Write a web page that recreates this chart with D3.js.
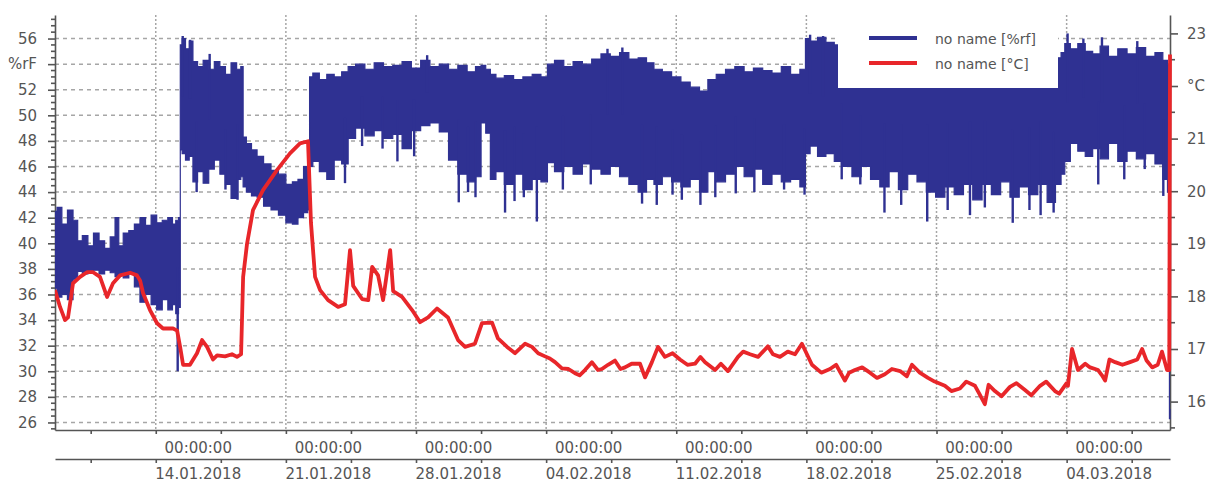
<!DOCTYPE html>
<html>
<head>
<meta charset="utf-8">
<script src="https://cdn.jsdelivr.net/npm/d3@7"></script>
<style>
  body { margin: 0; background: #fff; }
  svg { display: block; font-family: 'DejaVu Sans', sans-serif; }
  .axis path, .axis line { stroke: #555; stroke-width: 1.6; }
  .axis text { fill: #555; font-size: 15px; font-family: 'DejaVu Sans', sans-serif; }
  .legend text { fill: #555; font-size: 14px; }
</style>
</head>
<body>
<div id="chart"></div>
<script>

/*
--- DATA (days counted from 01.01.2018 00:00)
*/

// relative humidity [%rf], upper and lower edge of the band
var humDays = [
  7.58, 7.80, 8.10, 8.40, 8.70, 8.90, 9.20, 9.50, 9.80, 10.10,
  10.40, 10.70, 10.92, 11.10, 11.40, 11.70, 12.00, 12.30, 12.60, 12.90,
  13.20, 13.50, 13.80, 14.00, 14.15, 14.30, 14.34, 14.50, 14.70, 14.90,
  15.10, 15.40, 15.70, 16.00, 16.30, 16.60, 16.90, 17.20, 17.50, 17.65,
  17.75, 18.00, 18.30, 18.60, 19.00, 19.40, 19.80, 20.20, 20.50, 20.80,
  21.10, 21.25, 21.30, 21.60, 22.00, 22.40, 22.80, 23.20, 23.50, 24.00,
  24.50, 25.00, 25.50, 26.00, 26.50, 27.00, 27.50, 28.00, 28.50, 29.00,
  29.50, 30.00, 30.40, 30.60, 30.90, 31.10, 31.50, 32.00, 32.50, 33.00,
  33.50, 33.94, 34.20, 34.70, 35.20, 35.70, 36.20, 36.70, 37.20, 37.70,
  38.20, 38.70, 39.20, 39.60, 40.00, 40.50, 41.00, 41.50, 42.00, 42.50,
  42.90, 43.40, 43.90, 44.40, 44.90, 45.40, 45.90, 46.40, 46.90, 47.40,
  47.90, 48.00, 48.40, 48.80, 49.30, 49.70, 50.20, 50.70, 51.20, 51.70,
  52.20, 52.70, 53.20, 53.70, 54.20, 54.70, 55.20, 55.70, 56.20, 56.70,
  57.20, 57.70, 58.20, 58.70, 59.20, 59.70, 60.20, 60.70, 61.20, 61.60,
  61.80, 62.00, 62.40, 62.80, 63.20, 63.60, 64.00, 64.50, 65.00, 65.50,
  66.00, 66.50, 67.00, 67.35, 67.50, 67.56
];
var humHigh = [
  42.5, 42.8, 41.5, 42.6, 41.8, 40.2, 40.6, 39.8, 40.8, 40.2,
  39.6, 40.5, 42.0, 39.8, 40.8, 41.0, 41.5, 42.0, 41.4, 42.2,
  41.6, 41.8, 42.0, 41.5, 41.8, 42.0, 55.5, 56.0, 55.2, 55.8,
  54.2, 53.8, 54.3, 53.6, 54.2, 53.8, 53.2, 54.1, 53.6, 53.8,
  48.3, 47.8, 47.3, 46.8, 46.2, 45.7, 45.4, 44.6, 44.8, 45.0,
  46.0, 46.6, 53.0, 53.3, 52.8, 53.2, 53.0, 53.4, 53.8, 54.0,
  53.6, 54.1, 53.8, 53.9, 54.2, 53.7, 54.3, 53.8, 54.0, 53.6,
  53.9, 53.4, 53.8, 53.9, 53.6, 53.2, 52.9, 53.1, 52.8, 53.0,
  53.2, 53.0, 54.0, 54.3, 53.8, 54.2, 54.0, 54.4, 54.8, 54.6,
  54.9, 54.4, 54.5, 54.1, 53.6, 53.4, 53.0, 52.6, 52.2, 51.9,
  52.8, 53.2, 53.6, 53.8, 53.4, 53.7, 53.5, 53.3, 53.8, 53.2,
  53.6, 56.0, 55.8, 56.1, 55.7, 55.5, 54.5, 54.8, 54.5, 54.6,
  54.3, 54.6, 54.4, 54.5, 54.3, 54.5, 54.2, 54.4, 54.3, 54.5,
  54.2, 54.6, 54.3, 54.5, 54.2, 54.6, 54.3, 54.4, 54.2, 54.5,
  54.9, 55.6, 55.2, 55.6, 55.0, 54.8, 55.4, 54.6, 55.2, 54.8,
  55.3, 54.6, 54.9, 54.3, 54.0, 27.0
];
var humLow = [
  36.5, 35.8, 36.0, 35.6, 37.2, 37.8, 37.6, 37.8, 37.9, 37.6,
  37.9, 37.7, 37.4, 37.5, 37.3, 37.6, 36.6, 35.4, 36.0, 35.2,
  34.8, 35.6, 34.8, 35.2, 34.5, 35.0, 47.3, 47.0, 46.5, 46.8,
  44.8, 45.6, 44.7, 45.8, 46.5, 45.4, 44.6, 43.5, 45.0, 45.2,
  44.4, 44.0, 43.7, 43.6, 42.9, 42.6, 42.2, 41.6, 41.5, 42.0,
  42.4, 42.6, 46.0, 46.4, 45.6, 45.0, 46.5, 46.2, 48.2, 49.0,
  48.4, 48.8, 48.2, 48.5, 47.4, 48.8, 49.2, 49.4, 48.7, 46.5,
  45.4, 44.8, 45.2, 49.4, 48.6, 45.0, 45.6, 44.6, 45.4, 44.2,
  45.0, 44.8, 46.3, 45.6, 46.0, 45.4, 46.2, 45.8, 45.4, 46.0,
  45.2, 44.6, 44.0, 45.0, 44.6, 45.2, 44.8, 44.4, 45.0, 44.0,
  45.6, 44.8, 45.4, 46.0, 45.2, 45.8, 44.6, 45.4, 44.8, 45.0,
  44.4, 47.0, 47.6, 46.8, 47.0, 46.4, 46.0, 45.2, 46.0, 45.0,
  44.4, 45.6, 44.2, 45.4, 44.8, 44.0, 43.6, 44.4, 43.8, 44.6,
  43.4, 44.6, 43.8, 44.8, 43.6, 44.4, 43.8, 44.6, 43.2, 44.6,
  45.4, 46.4, 47.8, 47.2, 46.8, 47.4, 46.6, 47.8, 46.4, 47.2,
  46.6, 47.0, 46.2, 45.0, 44.0, 26.3
];

// single readings sticking out of the humidity band
var humSpikeDays = [
  14.18, 15.20, 16.75, 17.40, 23.18, 24.10, 25.20, 26.00, 26.90, 29.30,
  29.80, 30.20, 31.79, 32.30, 32.80, 33.50, 34.90, 36.40, 39.16, 39.95,
  40.80, 41.30, 42.30, 43.10, 44.20, 45.20, 46.80, 47.90, 49.90, 50.90,
  52.20, 53.10, 54.50, 55.60, 56.80, 57.60, 59.10, 60.00, 60.60, 61.30,
  63.70, 65.10, 66.20, 67.20,
  14.45, 14.85, 15.90, 27.60, 37.30, 38.10, 48.20, 48.90, 62.05, 62.90,
  63.90, 65.80
];
var humSpikeValues = [
  30.0, 44.0, 44.2, 43.4, 44.7, 47.6, 47.4, 46.4, 46.8, 43.2,
  44.0, 43.6, 42.4, 43.3, 43.6, 41.7, 44.2, 44.6, 43.1, 43.0,
  43.8, 43.4, 43.0, 43.6, 43.9, 44.0, 44.2, 43.8, 45.0, 44.6,
  42.4, 43.0, 41.7, 42.6, 42.2, 42.8, 41.6, 42.6, 42.2, 42.4,
  44.6, 45.0, 45.8, 43.7,
  56.2, 55.9, 54.8, 54.7, 55.2, 55.3, 56.3, 56.2, 56.4, 56.0,
  56.1, 55.8
];

// temperature [°C]
var tempDays = [
  7.58, 7.85, 8.12, 8.28, 8.55, 8.93, 9.30, 9.63, 10.00, 10.38,
  10.70, 11.08, 11.62, 11.99, 12.16, 12.32, 12.69, 13.07, 13.39, 13.93,
  14.15, 14.31, 14.47, 14.84, 15.22, 15.49, 15.76, 16.08, 16.30, 16.73,
  17.10, 17.37, 17.59, 17.70, 17.91, 18.23, 18.77, 19.52, 20.22, 20.76,
  21.19, 21.35, 21.57, 21.84, 22.27, 22.81, 23.18, 23.45, 23.62, 24.10,
  24.43, 24.64, 24.96, 25.23, 25.61, 25.77, 26.25, 26.79, 27.22, 27.65,
  28.13, 28.72, 29.26, 29.64, 30.17, 30.55, 31.09, 31.41, 31.90, 32.33,
  32.87, 33.24, 33.57, 33.94, 34.20, 34.48, 34.85, 35.20, 35.55, 35.80,
  36.09, 36.46, 36.79, 37.00, 37.33, 37.70, 38.00, 38.24, 38.60, 39.05,
  39.32, 39.69, 40.02, 40.39, 40.80, 41.20, 41.60, 42.01, 42.30, 42.55,
  43.09, 43.40, 43.78, 44.32, 44.60, 44.97, 45.40, 45.93, 46.20, 46.58,
  47.00, 47.39, 47.76, 48.30, 48.80, 49.27, 49.60, 50.07, 50.30, 50.61,
  51.00, 51.42, 51.80, 52.22, 52.60, 53.04, 53.40, 53.68, 54.10, 54.54,
  54.90, 55.45, 55.80, 56.26, 56.60, 57.07, 57.30, 57.60, 57.80, 58.14,
  58.50, 58.95, 59.30, 59.76, 60.10, 60.57, 60.90, 61.37, 61.60, 62.00,
  62.07, 62.29, 62.61, 63.00, 63.26, 63.69, 63.90, 64.07, 64.30, 64.61,
  65.00, 65.41, 65.80, 66.06, 66.30, 66.60, 66.90, 67.13, 67.40, 67.52,
  67.56
];
var tempValues = [
  18.12, 17.80, 17.55, 17.60, 18.25, 18.37, 18.46, 18.46, 18.37, 17.99,
  18.25, 18.40, 18.45, 18.40, 18.30, 18.06, 17.74, 17.49, 17.39, 17.39,
  17.35, 17.04, 16.70, 16.70, 16.92, 17.17, 17.04, 16.80, 16.88, 16.86,
  16.90, 16.85, 16.90, 18.37, 19.00, 19.64, 20.02, 20.40, 20.72, 20.91,
  20.95, 19.40, 18.37, 18.12, 17.93, 17.80, 17.85, 18.88, 18.20, 17.95,
  17.93, 18.56, 18.40, 17.93, 18.88, 18.10, 17.99, 17.74, 17.51, 17.60,
  17.77, 17.60, 17.17, 17.04, 17.10, 17.49, 17.50, 17.20, 17.04, 16.92,
  17.10, 17.04, 16.92, 16.86, 16.82, 16.75, 16.63, 16.62, 16.54, 16.50,
  16.60, 16.75, 16.60, 16.62, 16.70, 16.78, 16.62, 16.65, 16.72, 16.72,
  16.46, 16.75, 17.04, 16.85, 16.92, 16.80, 16.70, 16.72, 16.85, 16.75,
  16.60, 16.72, 16.58, 16.85, 16.95, 16.90, 16.85, 17.05, 16.90, 16.85,
  16.95, 16.90, 17.10, 16.70, 16.55, 16.62, 16.70, 16.40, 16.55, 16.60,
  16.65, 16.55, 16.45, 16.52, 16.62, 16.58, 16.48, 16.70, 16.55, 16.45,
  16.38, 16.30, 16.20, 16.25, 16.38, 16.30, 16.15, 15.95, 16.32, 16.20,
  16.10, 16.28, 16.35, 16.22, 16.12, 16.30, 16.38, 16.20, 16.15, 16.35,
  16.30, 17.00, 16.60, 16.72, 16.65, 16.60, 16.50, 16.40, 16.80, 16.75,
  16.70, 16.75, 16.80, 17.00, 16.78, 16.65, 16.70, 16.95, 16.60, 16.60,
  22.60
];

// axis ticks
var humTicks = [26, 28, 30, 32, 34, 36, 38, 40, 42, 44, 46, 48, 50, 52, 54, 56];
var tempTicks = [16, 17, 18, 19, 20, 21, 22, 23];
var weekLabels = ['14.01.2018', '21.01.2018', '28.01.2018', '04.02.2018',
                  '11.02.2018', '18.02.2018', '25.02.2018', '04.03.2018'];
var seriesNames = ['no name [%rf]', 'no name [°C]'];

/*
--- PROPERTIES
*/

var width = 1212, height = 482;
var plot = {left: 55, right: 1170, top: 15, bottom: 430};
var blue = '#2f3192', red = '#e8262a', gridColor = '#a6a6a6';
var t0 = Date.UTC(2018, 0, 1);
var toDate = function(d) { return new Date(t0 + d * 864e5); };
var parseDay = d3.utcParse('%d.%m.%Y');

var majorDates = weekLabels.map(parseDay);
var minorDates = majorDates.map(function(d) { return d3.utcHour.offset(d, -84); });
minorDates.push(d3.utcHour.offset(majorDates[majorDates.length - 1], 84));
var allTicks = majorDates.concat(minorDates).sort(d3.ascending);
var isMajor = function(d) { return d.getUTCHours() === 0; };

var x = d3.scaleUtc()
  .domain([toDate(7.58), toDate(67.56)])
  .range([plot.left, plot.right]);
var yHum = d3.scaleLinear().domain([25.41, 57.84]).range([plot.bottom, plot.top]);
var yTemp = d3.scaleLinear().domain([15.46, 23.35]).range([plot.bottom, plot.top]);

var svg = d3.select('#chart').append('svg')
  .attr('width', width)
  .attr('height', height);

/*
--- GRID
*/

var grid = svg.append('g');
grid.selectAll('.hgrid').data(humTicks).enter().append('line')
  .attr('x1', plot.left).attr('x2', plot.right)
  .attr('y1', function(d) { return yHum(d); })
  .attr('y2', function(d) { return yHum(d); })
  .attr('stroke', gridColor).attr('stroke-width', 1.5)
  .attr('stroke-dasharray', '4,4');
grid.selectAll('.vgrid').data(majorDates).enter().append('line')
  .attr('x1', function(d) { return x(d); })
  .attr('x2', function(d) { return x(d); })
  .attr('y1', plot.top).attr('y2', plot.bottom)
  .attr('stroke', gridColor).attr('stroke-width', 1.5)
  .attr('stroke-dasharray', '2,2');

/*
--- AXES
*/

// left axis (humidity)
var gl = svg.append('g').attr('class', 'axis')
  .attr('transform', 'translate(' + plot.left + ',0)')
  .call(d3.axisLeft(yHum).tickValues(humTicks).tickSize(7).tickSizeOuter(0).tickPadding(11)
    .tickFormat(function(d) { return d === 54 ? '%rF' : d; }));
gl.selectAll('.minor').data(d3.range(25.5, 57.9, 0.5).filter(function(v) { return v % 2 !== 0; }))
  .enter().append('line')
  .attr('x1', -4).attr('x2', 0)
  .attr('y1', function(d) { return yHum(d); })
  .attr('y2', function(d) { return yHum(d); });

// right axis (temperature)
var gr = svg.append('g').attr('class', 'axis')
  .attr('transform', 'translate(' + plot.right + ',0)')
  .call(d3.axisRight(yTemp).tickValues(tempTicks).tickSize(8).tickSizeOuter(0).tickPadding(9)
    .tickFormat(function(d) { return d === 22 ? '°C' : d; }));
gr.selectAll('.minor').data(d3.range(15.5, 23.4, 1))
  .enter().append('line')
  .attr('x1', 0).attr('x2', 5)
  .attr('y1', function(d) { return yTemp(d); })
  .attr('y2', function(d) { return yTemp(d); });

// bottom axes (time of day and date)
var timeAxis = svg.append('g').attr('class', 'axis')
  .attr('transform', 'translate(0,' + plot.bottom + ')')
  .call(d3.axisBottom(x).tickValues(allTicks).tickSize(4).tickSizeOuter(0).tickPadding(8)
    .tickFormat(function(d) { return isMajor(d) ? d3.utcFormat('%H:%M:%S')(d) : ''; }));
var dateAxis = svg.append('g').attr('class', 'axis')
  .attr('transform', 'translate(0,459)')
  .call(d3.axisBottom(x).tickValues(allTicks).tickSize(4).tickSizeOuter(0).tickPadding(5)
    .tickFormat(function(d) { return isMajor(d) ? d3.utcFormat('%d.%m.%Y')(d) : ''; }));
[timeAxis, dateAxis].forEach(function(a) {
  a.selectAll('.tick line').attr('stroke-width', 2.2);
  a.selectAll('.tick text').attr('x', 42);
});

/*
--- DATA
*/

var humData = humDays.map(function(d, i) {
  return {t: toDate(d), hi: humHigh[i], lo: humLow[i]};
});
var tempData = tempDays.map(function(d, i) {
  return {t: toDate(d), v: tempValues[i]};
});

svg.append('clipPath').attr('id', 'plotclip').append('rect')
  .attr('x', plot.left).attr('y', plot.top - 5)
  .attr('width', plot.right - plot.left + 2).attr('height', plot.bottom - plot.top + 5);

var dataLayer = svg.append('g').attr('clip-path', 'url(#plotclip)');

// humidity band
dataLayer.append('path')
  .datum(humData)
  .attr('d', d3.area()
    .curve(d3.curveStep)
    .x(function(d) { return x(d.t); })
    .y0(function(d) { return yHum(d.lo); })
    .y1(function(d) { return yHum(d.hi); }))
  .attr('fill', blue)
  .attr('stroke', blue)
  .attr('stroke-width', 1.2);

// humidity spikes, drawn from the middle of the band to the reading
var bisect = d3.bisector(function(d) { return d.t; }).center;
dataLayer.selectAll('.spike').data(humSpikeDays).enter().append('line')
  .attr('x1', function(d) { return x(toDate(d)); })
  .attr('x2', function(d) { return x(toDate(d)); })
  .attr('y1', function(d, i) { return yHum(humSpikeValues[i]); })
  .attr('y2', function(d) {
    var s = humData[bisect(humData, toDate(d))];
    return yHum((s.hi + s.lo) / 2);
  })
  .attr('stroke', blue)
  .attr('stroke-width', 2.4);

// temperature line
dataLayer.append('path')
  .datum(tempData)
  .attr('d', d3.line()
    .x(function(d) { return x(d.t); })
    .y(function(d) { return yTemp(d.v); }))
  .attr('fill', 'none')
  .attr('stroke', red)
  .attr('stroke-width', 3.8)
  .attr('stroke-linejoin', 'round');

/*
--- LEGEND
*/

var legend = svg.append('g').attr('class', 'legend');
legend.append('rect')
  .attr('x', 838).attr('y', plot.top)
  .attr('width', 220).attr('height', 73)
  .attr('fill', '#fff');
[blue, red].forEach(function(c, i) {
  legend.append('line')
    .attr('x1', 869).attr('x2', 917)
    .attr('y1', 38 + i * 25).attr('y2', 38 + i * 25)
    .attr('stroke', c).attr('stroke-width', 4);
  legend.append('text')
    .attr('x', 935).attr('y', 44 + i * 25)
    .text(seriesNames[i]);
});

</script>
</body>
</html>
